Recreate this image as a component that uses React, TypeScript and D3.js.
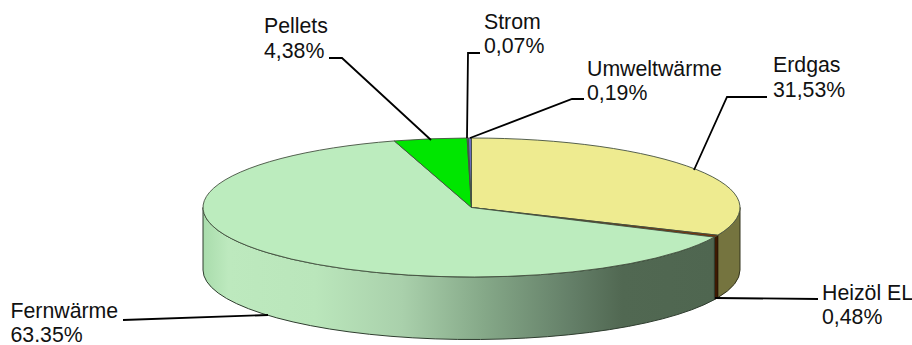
import React from "react";
import * as d3 from "d3";

const categories = ["Erdgas", "Heizöl EL", "Fernwärme", "Pellets", "Strom", "Umweltwärme"];
const shares = [31.53, 0.48, 63.35, 4.38, 0.07, 0.19];
const shareLabels = ["31,53%", "0,48%", "63.35%", "4,38%", "0,07%", "0,19%"];
const topColors = ["#eeeb90", "#7a3208", "#bcecbe", "#00e600", "#5a5aa8", "#6c6cc0"];
const wallColors = ["#75743f", "#3e1a02", "", "#00a000", "#444488", "#444488"];
const wallEdges = ["#33331c", "#2a1200", "#2f3d2f", "#004000", "#222244", "#222244"];
// Lighting along the front wall of the largest slice: offset and colour.
const lightOffsets = [0, 0.05, 0.22, 0.39, 0.55, 0.72, 0.82, 1];
const lightColors = ["#a9dcac", "#bde9be", "#bae6bb", "#a9d0ab", "#85a888", "#647f68", "#516852", "#4f6650"];
const labelPos: [number, number][] = [
  [773, 72], [822, 300], [10.5, 318], [264, 33], [484, 29], [587, 76],
];
const lineGap = [25, 24, 24, 25, 24, 24];
const leaders: [number, number][][] = [
  [[767, 97], [727, 97], [694, 170]],
  [[818, 299], [715, 298]],
  [[123, 320], [268, 315]],
  [[329, 58], [342, 58], [431, 140]],
  [[480, 53], [468, 53], [467, 138]],
  [[584, 99], [572, 99], [470, 138]],
];

const width = 912;
const height = 345;
const cx = 471.5;
const cy = 207.5;
const rx = 268.5;
const ry = 69.5;
const depth = 62.5;

const px = (a: number) => cx + rx * Math.sin(a);
const py = (a: number) => cy - ry * Math.cos(a);

// Outer wall between two pie angles, kept to the front half of the ellipse.
function wallPath(a0: number, a1: number) {
  const s = Math.max(a0, Math.PI / 2);
  const e = Math.min(a1, (3 * Math.PI) / 2);
  if (e <= s) return null;
  const large = e - s > Math.PI ? 1 : 0;
  return (
    `M${px(s)},${py(s)}A${rx},${ry} 0 ${large} 1 ${px(e)},${py(e)}` +
    `L${px(e)},${py(e) + depth}A${rx},${ry} 0 ${large} 0 ${px(s)},${py(s) + depth}Z`
  );
}

function topPath(a0: number, a1: number) {
  const large = a1 - a0 > Math.PI ? 1 : 0;
  return `M${cx},${cy}L${px(a0)},${py(a0)}A${rx},${ry} 0 ${large} 1 ${px(a1)},${py(a1)}Z`;
}

export default function App() {
  const arcs = d3.pie<number>().sort(null).startAngle(0).endAngle(2 * Math.PI)(shares);
  return (
    <svg
      width={width}
      height={height}
      viewBox={`0 0 ${width} ${height}`}
      style={{ position: "absolute", left: 0, top: 0, fontFamily: "Liberation Sans" }}
    >
      <defs>
        <linearGradient id="fernwall" gradientUnits="userSpaceOnUse" x1={cx - rx} x2={px(arcs[2].startAngle)} y1={0} y2={0}>
          {lightOffsets.map((o, i) => (
            <stop key={o} offset={o} stopColor={lightColors[i]} />
          ))}
        </linearGradient>
      </defs>
      {arcs.map((a, i) => {
        const d = wallPath(a.startAngle, a.endAngle);
        return d ? (
          <path key={i} d={d} fill={wallColors[i] || "url(#fernwall)"} stroke={wallEdges[i]} strokeWidth={1} strokeLinejoin="round" />
        ) : null;
      })}
      {arcs.map((a, i) => (
        <path key={i} d={topPath(a.startAngle, a.endAngle)} fill={topColors[i]} stroke="#44503f" strokeWidth={0.9} strokeLinejoin="round" />
      ))}
      {leaders.map((l, i) => (
        <path key={i} d={d3.line()(l) ?? ""} fill="none" stroke="#000" strokeWidth={1.8} />
      ))}
      {categories.map((c, i) => (
        <text key={c} x={labelPos[i][0]} y={labelPos[i][1]} fontSize={21.3} fill="#111">
          <tspan x={labelPos[i][0]}>{c}</tspan>
          <tspan x={labelPos[i][0]} dy={lineGap[i]}>{shareLabels[i]}</tspan>
        </text>
      ))}
    </svg>
  );
}
